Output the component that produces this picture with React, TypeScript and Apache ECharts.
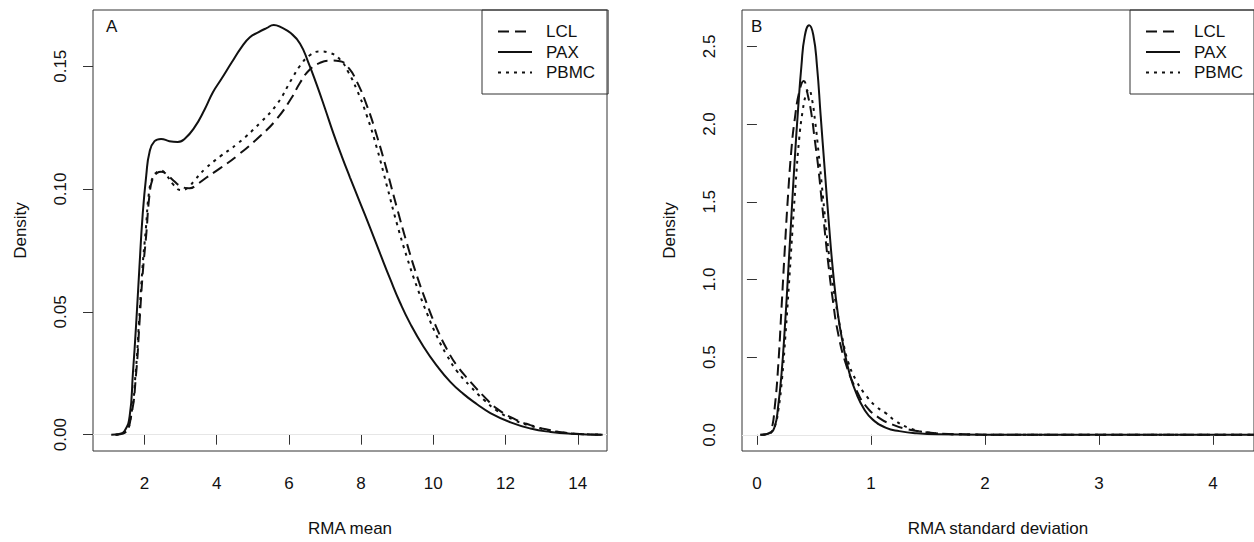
import React, { useEffect, useRef } from "react";
import * as echarts from "echarts";

// ---------- data ----------
const seriesNames = ["LCL", "PAX", "PBMC"];

const meanTicks = [2, 4, 6, 8, 10, 12, 14];
const meanDensityTicks = [0, 0.05, 0.1, 0.15];
const sdTicks = [0, 1, 2, 3, 4];
const sdDensityTicks = [0, 0.5, 1.0, 1.5, 2.0, 2.5];

// Panel A: density of RMA mean
const lclMean: number[][] = [
  [1.2, 0], [1.45, 0.0008], [1.63, 0.0075], [1.77, 0.025], [1.86, 0.045], [1.95, 0.0653],
  [2.05, 0.0815], [2.14, 0.0976], [2.23, 0.1043], [2.35, 0.1065], [2.46, 0.107], [2.6, 0.1062],
  [2.8, 0.1035], [3.0, 0.1012], [3.25, 0.1003], [3.45, 0.1018], [3.7, 0.1045], [4.1, 0.1085],
  [4.58, 0.1137], [5.22, 0.1218], [5.68, 0.1288], [6.08, 0.1373], [6.31, 0.1433], [6.58, 0.1487],
  [6.86, 0.1514], [7.14, 0.1523], [7.42, 0.152], [7.65, 0.1494], [7.88, 0.1438], [8.16, 0.134],
  [8.44, 0.1215], [8.72, 0.1072], [8.99, 0.0925], [9.27, 0.0778], [9.55, 0.0645], [9.83, 0.053],
  [10.1, 0.0432], [10.38, 0.0347], [10.66, 0.028], [11.03, 0.0215], [11.4, 0.0156], [11.77, 0.0105],
  [12.23, 0.0065], [12.69, 0.0039], [13.15, 0.0021], [13.61, 0.0009], [14.2, 0.0002], [14.69, 0],
];
const paxMean: number[][] = [
  [1.08, 0], [1.3, 0.0003], [1.45, 0.0015], [1.59, 0.0075], [1.68, 0.025], [1.77, 0.045],
  [1.86, 0.068], [1.95, 0.0895], [2.05, 0.1056], [2.14, 0.115], [2.28, 0.1195], [2.46, 0.1204],
  [2.69, 0.1195], [2.92, 0.1192], [3.11, 0.1204], [3.39, 0.1252], [3.67, 0.1325], [3.9, 0.1395],
  [4.13, 0.1448], [4.41, 0.1514], [4.69, 0.1578], [4.92, 0.1618], [5.15, 0.1638], [5.38, 0.1655],
  [5.58, 0.1668], [5.79, 0.1658], [6.05, 0.1635], [6.31, 0.1592], [6.54, 0.1515], [6.77, 0.1425],
  [7.0, 0.1328], [7.23, 0.1228], [7.46, 0.1135], [7.69, 0.1048], [7.97, 0.0945], [8.25, 0.0842],
  [8.53, 0.0736], [8.81, 0.0632], [9.08, 0.0537], [9.36, 0.0452], [9.73, 0.0358], [10.1, 0.028],
  [10.47, 0.0215], [10.84, 0.0165], [11.21, 0.0124], [11.58, 0.0088], [12.14, 0.005], [12.69, 0.0025],
  [13.25, 0.0011], [13.8, 0.0004], [14.69, 0],
];
const pbmcMean: number[][] = [
  [1.2, 0], [1.45, 0.0008], [1.63, 0.008], [1.76, 0.026], [1.85, 0.046], [1.94, 0.067],
  [2.04, 0.084], [2.13, 0.099], [2.23, 0.1047], [2.35, 0.107], [2.46, 0.1075], [2.6, 0.1058],
  [2.8, 0.1018], [3.01, 0.0996], [3.2, 0.1005], [3.39, 0.1036], [3.7, 0.1085], [4.1, 0.1133],
  [4.58, 0.1185], [5.22, 0.1272], [5.68, 0.1348], [6.08, 0.1448], [6.31, 0.1502], [6.58, 0.1545],
  [6.86, 0.156], [7.14, 0.1554], [7.42, 0.1527], [7.65, 0.1475], [7.88, 0.1405], [8.16, 0.1298],
  [8.44, 0.1165], [8.72, 0.101], [8.99, 0.086], [9.27, 0.0722], [9.55, 0.06], [9.83, 0.0492],
  [10.1, 0.04], [10.38, 0.0322], [10.66, 0.0258], [11.03, 0.0196], [11.4, 0.0142], [11.77, 0.0097],
  [12.23, 0.006], [12.69, 0.0036], [13.15, 0.0019], [13.61, 0.0008], [14.2, 0.0002], [14.69, 0],
];

// Panel B: density of RMA standard deviation
const lclSd: number[][] = [
  [0.03, 0], [0.1, 0.008], [0.128, 0.034], [0.157, 0.183], [0.186, 0.438], [0.216, 0.821],
  [0.245, 1.203], [0.273, 1.543], [0.303, 1.841], [0.332, 2.033], [0.37, 2.203], [0.41, 2.277],
  [0.448, 2.18], [0.477, 2.07], [0.507, 1.9], [0.535, 1.74], [0.565, 1.53], [0.594, 1.32],
  [0.623, 1.12], [0.667, 0.86], [0.71, 0.66], [0.783, 0.45], [0.871, 0.29], [0.958, 0.183],
  [1.074, 0.108], [1.19, 0.066], [1.3, 0.04], [1.45, 0.02], [1.6, 0.009], [1.8, 0.003],
  [2.2, 0.0005], [4.36, 0],
];
const paxSd: number[][] = [
  [0.03, 0], [0.114, 0.013], [0.157, 0.055], [0.186, 0.183], [0.216, 0.395], [0.245, 0.693],
  [0.273, 1.033], [0.303, 1.416], [0.332, 1.777], [0.361, 2.096], [0.39, 2.372], [0.419, 2.564],
  [0.458, 2.636], [0.494, 2.575], [0.527, 2.372], [0.559, 2.054], [0.594, 1.714], [0.632, 1.352],
  [0.667, 1.055], [0.71, 0.778], [0.754, 0.587], [0.812, 0.395], [0.871, 0.268], [0.943, 0.162],
  [1.016, 0.098], [1.133, 0.045], [1.249, 0.024], [1.4, 0.01], [1.6, 0.003], [2.0, 0.0005],
  [4.36, 0],
];
const pbmcSd: number[][] = [
  [0.05, 0], [0.11, 0.008], [0.13, 0.02], [0.16, 0.06], [0.19, 0.17], [0.22, 0.36],
  [0.25, 0.64], [0.28, 0.96], [0.31, 1.3], [0.34, 1.62], [0.37, 1.9], [0.4, 2.08],
  [0.43, 2.19], [0.455, 2.225], [0.48, 2.17], [0.51, 2.02], [0.54, 1.82], [0.57, 1.6],
  [0.6, 1.38], [0.63, 1.17], [0.67, 0.95], [0.71, 0.77], [0.75, 0.62], [0.8, 0.47],
  [0.87, 0.35], [0.96, 0.25], [1.05, 0.18], [1.13, 0.14], [1.22, 0.087], [1.35, 0.04],
  [1.5, 0.015], [1.8, 0.003], [2.2, 0.0005], [4.36, 0],
];

// ---------- styling ----------
const FONT = "'Liberation Sans', Arial, Helvetica, sans-serif";
const INK = "#111";
const BOX = "#333";
const dashTypes: Record<string, any> = {
  LCL: [11, 6],
  PAX: "solid",
  PBMC: [3, 5],
};

export default function App() {
  const ref = useRef<HTMLDivElement>(null);

  useEffect(() => {
    if (!ref.current) return;
    const chart = echarts.init(ref.current, undefined, { renderer: "svg" });

    const xAxisBase = (gridIndex: number, min: number, max: number, ticks: number[], name: string) => ({
      type: "value",
      gridIndex,
      min,
      max,
      name,
      nameLocation: "middle",
      nameGap: 69,
      nameTextStyle: { fontSize: 17, color: INK, fontFamily: FONT },
      axisLine: { show: false },
      axisTick: { show: true, length: 10, customValues: ticks, lineStyle: { color: BOX, width: 1 } },
      axisLabel: { customValues: ticks, margin: 24, fontSize: 17, color: INK, fontFamily: FONT },
      splitLine: { show: false },
    });

    const yAxisBase = (gridIndex: number, min: number, max: number, ticks: number[], digits: number) => ({
      type: "value",
      gridIndex,
      min,
      max,
      name: "Density",
      nameLocation: "middle",
      nameGap: 64,
      nameTextStyle: { fontSize: 17, color: INK, fontFamily: FONT },
      axisLine: { show: false },
      axisTick: { show: true, length: 10, customValues: ticks, lineStyle: { color: BOX, width: 1 } },
      axisLabel: {
        customValues: ticks,
        rotate: 90,
        margin: 24,
        fontSize: 17,
        color: INK,
        fontFamily: FONT,
        formatter: (v: number) => v.toFixed(digits),
      },
      splitLine: { show: false },
    });

    const makeSeries = (name: string, data: number[][], axisIndex: number, zeroLine: boolean) => ({
      name,
      type: "line",
      xAxisIndex: axisIndex,
      yAxisIndex: axisIndex,
      data,
      symbol: "none",
      showSymbol: false,
      smooth: 0.5,
      lineStyle: { color: INK, width: 2, type: dashTypes[name] },
      itemStyle: { color: INK },
      z: name === "PAX" ? 3 : 2,
      markLine: zeroLine
        ? {
            silent: true,
            symbol: "none",
            label: { show: false },
            lineStyle: { color: "#e6e6e6", width: 1, type: "solid" },
            data: [{ yAxis: 0 }],
            z: 1,
          }
        : undefined,
    });

    const legendBase = (left: number) => ({
      data: seriesNames,
      orient: "vertical",
      left,
      top: 10,
      padding: [13, 13, 13, 15],
      itemWidth: 34,
      itemHeight: 17,
      itemGap: 3.5,
      borderColor: BOX,
      borderWidth: 1,
      selectedMode: false,
      itemStyle: { opacity: 0, borderWidth: 0 },
      textStyle: { fontSize: 17, color: INK, fontFamily: FONT, padding: [0, 0, 0, 9] },
    });

    const option = {
      animation: false,
      textStyle: { fontFamily: FONT },
      grid: [
        { left: 93, top: 10, width: 514, height: 445, show: true, borderColor: BOX, borderWidth: 1, backgroundColor: "transparent" },
        { left: 742, top: 10, width: 514, height: 445, show: true, borderColor: BOX, borderWidth: 1, backgroundColor: "transparent" },
      ],
      xAxis: [
        xAxisBase(0, 0.575, 14.81, meanTicks, "RMA mean"),
        xAxisBase(1, -0.131, 4.36, sdTicks, "RMA standard deviation"),
      ],
      yAxis: [
        yAxisBase(0, -0.00665, 0.1729, meanDensityTicks, 2),
        yAxisBase(1, -0.104, 2.734, sdDensityTicks, 1),
      ],
      legend: [legendBase(482), legendBase(1130)],
      graphic: [
        { type: "text", left: 106, top: 17.5, style: { text: "A", fontSize: 17, fill: INK, fontFamily: FONT } },
        { type: "text", left: 751, top: 17.5, style: { text: "B", fontSize: 17, fill: INK, fontFamily: FONT } },
      ],
      series: [
        makeSeries("LCL", lclMean, 0, false),
        makeSeries("PAX", paxMean, 0, true),
        makeSeries("PBMC", pbmcMean, 0, false),
        makeSeries("LCL", lclSd, 1, false),
        makeSeries("PAX", paxSd, 1, true),
        makeSeries("PBMC", pbmcSd, 1, false),
      ],
    };

    chart.setOption(option as any);
    return () => chart.dispose();
  }, []);

  return (
    <div
      ref={ref}
      style={{ position: "absolute", left: 0, top: 0, width: 1254, height: 542, background: "#fff" }}
    />
  );
}
